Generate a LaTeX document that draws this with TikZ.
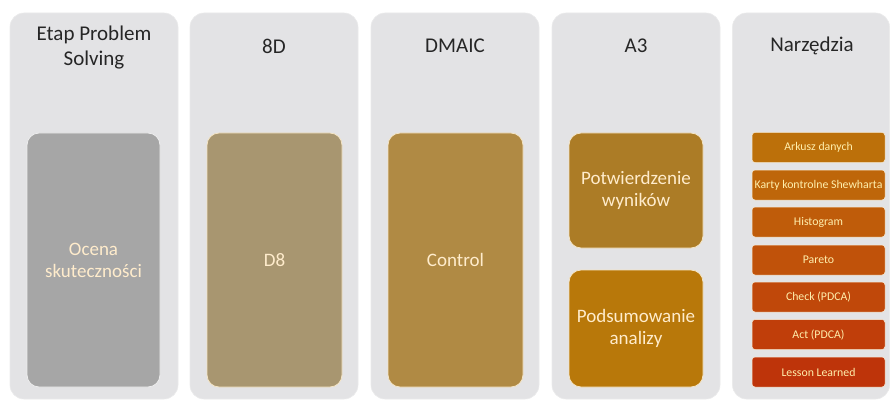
\documentclass[tikz,border=0pt]{standalone}
\usepackage{fontspec}
\setmainfont{Carlito}
\usetikzlibrary{positioning}

\definecolor{panelgray}{RGB}{227,227,229}
\definecolor{headtext}{RGB}{38,38,38}
\definecolor{creamtext}{RGB}{255,236,204}
\definecolor{creamline}{RGB}{244,228,196}
\definecolor{stepgray}{RGB}{166,166,166}
\definecolor{steptan}{RGB}{168,150,112}
\definecolor{stepgold}{RGB}{176,138,68}
\definecolor{astepa}{RGB}{172,124,38}
\definecolor{astepb}{RGB}{184,120,10}
\definecolor{toolA}{RGB}{188,112,10}
\definecolor{toolB}{RGB}{190,102,10}
\definecolor{toolC}{RGB}{191,92,10}
\definecolor{toolD}{RGB}{192,82,10}
\definecolor{toolE}{RGB}{192,72,10}
\definecolor{toolF}{RGB}{192,62,10}
\definecolor{toolG}{RGB}{190,52,10}

\tikzset{
  panel/.style={fill=panelgray, draw=white!92!black, line width=0.6pt, rounded corners=14pt,
    minimum height=386pt, inner sep=0pt},
  headline/.style={text=headtext, font=\fontsize{21}{25}\selectfont, align=center},
  stepbox/.style={draw=creamline, line width=0.8pt, rounded corners=12pt, inner sep=0pt,
    text=creamtext, font=\fontsize{19}{22}\selectfont, align=center},
  toolbox/.style={draw=creamline!70!white, line width=0.5pt, rounded corners=3pt, inner sep=0pt,
    minimum width=133pt, minimum height=30pt, text=creamtext!85!yellow, font=\fontsize{11.8}{14}\selectfont}
}

\begin{document}
\begin{tikzpicture}[x=1pt, y=-1pt]
			\useasboundingbox (0,0) rectangle (891,401);
			
			% Columns (background panels)
			\node[panel, minimum width=168pt] (pstage) at (94,206) {};
			\node[panel, minimum width=168pt] (peightd) at (274,206) {};
			\node[panel, minimum width=168pt] (pdmaic) at (455,206) {};
			\node[panel, minimum width=168pt] (pathree) at (636,206) {};
			\node[panel, minimum width=157pt] (ptools) at (811,206) {};
			
			% Column headers
			\node[headline] (hstage) at (94,48) {Etap Problem\\Solving};
			\node[headline] (heightd) at (274,46) {8D};
			\node[headline] (hdmaic) at (455,46) {DMAIC};
			\node[headline] (hathree) at (636,46) {A3};
			\node[headline] (htools) at (812,46) {Narzędzia};
			
			% Stage boxes
			\node[stepbox, fill=stepgray, minimum width=133pt, minimum height=254pt, draw=white!80!stepgray] (ocena) at (93.5,260) {Ocena\\skuteczności};
			\node[stepbox, fill=steptan, minimum width=135pt, minimum height=254pt] (deight) at (274.5,260) {D8};
			\node[stepbox, fill=stepgold, minimum width=135pt, minimum height=254pt] (control) at (455.5,260) {Control};
			
			% A3 boxes
			\node[stepbox, fill=astepa, minimum width=134pt, minimum height=115pt] (potw) at (636,190.5) {Potwierdzenie\\wyników};
			\node[stepbox, fill=astepb, minimum width=134pt, minimum height=117pt] (podsum) at (636,328.5) {Podsumowanie\\analizy};
			
			% Tools
			\node[toolbox, fill=toolA] (arkusz) at (818.5,147.5) {Arkusz danych};
			\node[toolbox, fill=toolB] (karty) at (818.5,185) {Karty kontrolne Shewharta};
			\node[toolbox, fill=toolC] (histo) at (818.5,222) {Histogram};
			\node[toolbox, fill=toolD] (pareto) at (818.5,260) {Pareto};
			\node[toolbox, fill=toolE] (check) at (818.5,297) {Check (PDCA)};
			\node[toolbox, fill=toolF] (act) at (818.5,334.5) {Act (PDCA)};
			\node[toolbox, fill=toolG] (lesson) at (818.5,372) {Lesson Learned};
			
		\end{tikzpicture}
\end{document}
